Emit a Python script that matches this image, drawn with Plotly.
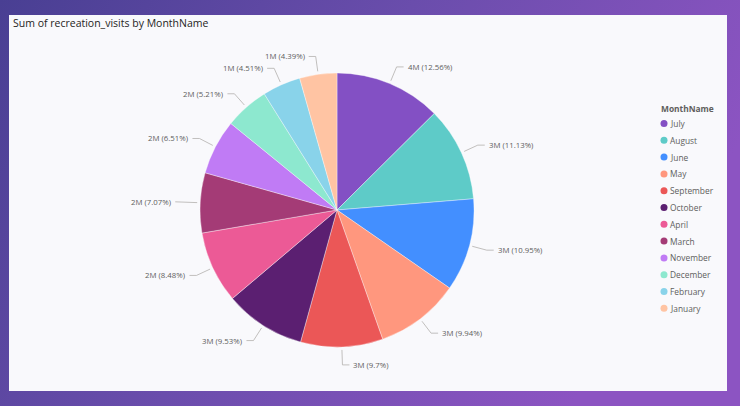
import math
import base64
import plotly.graph_objects as go

# ---- data ----
months = ["July", "August", "June", "May", "September", "October",
          "April", "March", "November", "December", "February", "January"]
share_pct = [12.56, 11.13, 10.95, 9.94, 9.7, 9.53, 8.48, 7.07, 6.51, 5.21, 4.51, 4.39]
visits_m = [3.67, 3.25, 3.20, 2.90, 2.83, 2.78, 2.48, 2.06, 1.90, 1.52, 1.32, 1.28]
colors = ["#8350C4", "#5ECBC8", "#438FFF", "#FF977E", "#EB5757", "#5B1F71",
          "#EC5A96", "#A43B76", "#C07BF5", "#8DE8CF", "#89D3EA", "#FFC4A3"]

W, H = 740, 406
CX, CY, R = 337, 210, 137
FONT = "Segoe UI, Open Sans, sans-serif"

fig = go.Figure()

# pie
fig.add_trace(go.Pie(
    labels=months, values=share_pct, sort=False, direction="clockwise", rotation=0,
    marker=dict(colors=colors, line=dict(color="rgba(255,255,255,0.6)", width=0.6)),
    textinfo="none", hoverinfo="label+value+percent", showlegend=False,
    domain=dict(x=[(CX - R) / W, (CX + R) / W], y=[(H - CY - R) / H, (H - CY + R) / H]),
))

# leader lines & labels computed from the data
total = sum(share_pct)
cum = 0.0
lx, ly = [], []
annotations = []
for m, p, v in zip(months, share_pct, visits_m):
    mid = (cum + p / 2) / total * 2 * math.pi
    cum += p
    s, c = math.sin(mid), math.cos(mid)
    x0, y0 = CX + (R + 3) * s, CY - (R + 3) * c
    x1, y1 = CX + (R + 18) * s, CY - (R + 18) * c
    side = 1 if s >= 0 else -1
    x2 = x1 + side * 7
    lx += [x0, x1, x2, None]
    ly += [y0, y1, y1, None]
    annotations.append(dict(
        x=x2 + side * 2, y=y1, xref="x", yref="y", showarrow=False,
        text=f"{round(v):.0f}M ({p:g}%)", xanchor="left" if side > 0 else "right",
        yanchor="middle", font=dict(family=FONT, size=7.8, color="#605E5C")))

fig.add_trace(go.Scatter(x=lx, y=ly, mode="lines", line=dict(color="#B3B0AD", width=0.8),
                         hoverinfo="skip", showlegend=False))

# custom legend
LEG_X, LEG_Y0, LEG_DY = 664, 123.5, 16.8
fig.add_trace(go.Scatter(
    x=[LEG_X] * len(months), y=[LEG_Y0 + i * LEG_DY for i in range(len(months))],
    mode="markers", marker=dict(color=colors, size=7, line=dict(width=0)),
    hoverinfo="skip", showlegend=False))
for i, m in enumerate(months):
    annotations.append(dict(
        x=LEG_X + 4, y=LEG_Y0 + i * LEG_DY, xref="x", yref="y", showarrow=False,
        text=m, xanchor="left", yanchor="middle",
        font=dict(family=FONT, size=8.4, color="#605E5C")))
annotations.append(dict(
    x=LEG_X - 5, y=LEG_Y0 - 15, xref="x", yref="y", showarrow=False,
    text="<b>MonthName</b>", xanchor="left", yanchor="middle",
    font=dict(family=FONT, size=8.4, color="#605E5C")))

# title
annotations.append(dict(
    x=11, y=22.5, xref="x", yref="y", showarrow=False,
    text="Sum of recreation_visits by MonthName", xanchor="left", yanchor="middle",
    font=dict(family=FONT, size=10.5, color="#252423")))

# gradient backdrop
svg = (f'<svg xmlns="http://www.w3.org/2000/svg" width="{W}" height="{H}" preserveAspectRatio="none">'
       '<defs><linearGradient id="g" x1="0" y1="0" x2="1" y2="0.35">'
       '<stop offset="0" stop-color="#493F93"/><stop offset="0.5" stop-color="#6A4DAC"/>'
       '<stop offset="1" stop-color="#8C54C2"/></linearGradient></defs>'
       f'<rect width="{W}" height="{H}" fill="url(#g)"/></svg>')
src = "data:image/svg+xml;base64," + base64.b64encode(svg.encode()).decode()

fig.update_layout(
    width=W, height=H, margin=dict(l=0, r=0, t=0, b=0),
    paper_bgcolor="#6A4DAC", plot_bgcolor="rgba(0,0,0,0)",
    xaxis=dict(range=[0, W], visible=False, fixedrange=True),
    yaxis=dict(range=[H, 0], visible=False, fixedrange=True),
    images=[dict(source=src, xref="paper", yref="paper", x=0, y=1, sizex=1, sizey=1,
                 sizing="stretch", layer="below", xanchor="left", yanchor="top")],
    shapes=[dict(type="rect", xref="x", yref="y", x0=9, x1=727, y0=15, y1=391,
                 fillcolor="#F9F9FC", line=dict(width=0), layer="below")],
    annotations=annotations,
)

fig.write_html("out.html", config={"displayModeBar": False},
               post_script="document.body.style.margin='0';document.body.style.overflow='hidden';")
